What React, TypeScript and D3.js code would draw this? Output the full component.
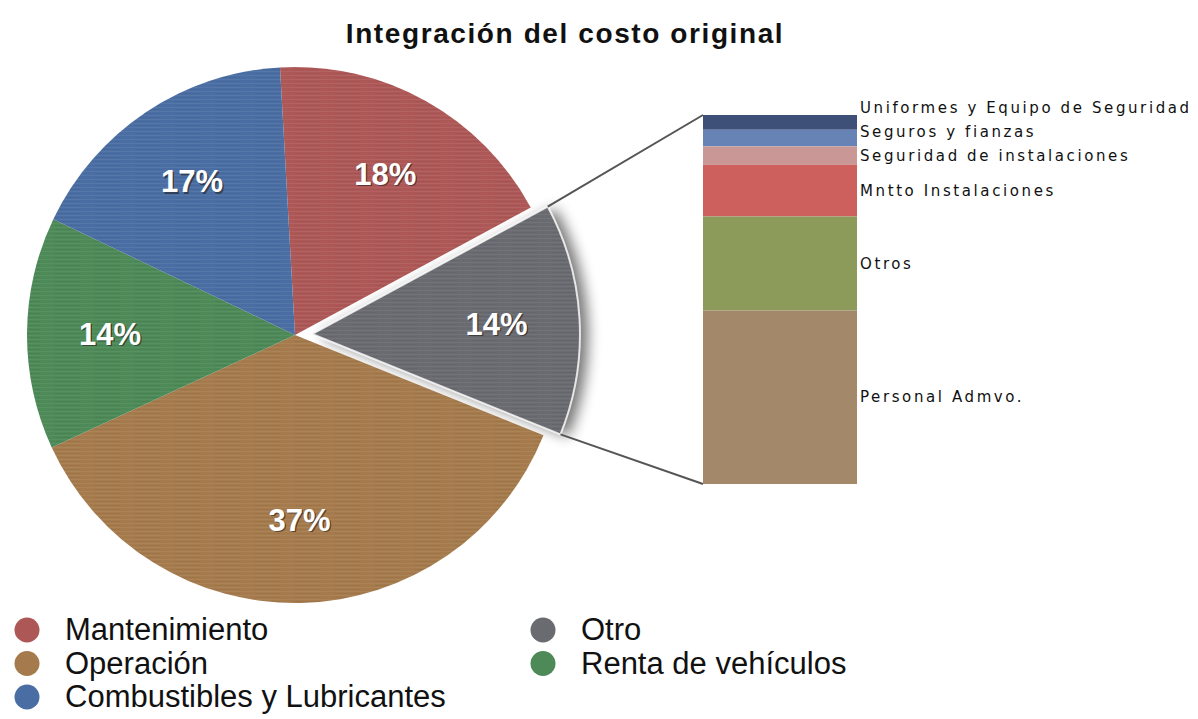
import React, { useEffect, useRef } from 'react';
import * as d3 from 'd3';

// pie categories (clockwise from the top; legend reads row by row)
const categories = ['Mantenimiento', 'Otro', 'Operación', 'Renta de vehículos', 'Combustibles y Lubricantes'];
const shares = [18, 14, 37, 14, 17];
const pieColors = ['#ad5857', '#6a6a71', '#a57b4d', '#4d8a58', '#4a6ea3'];

// breakdown of "Otro" (top to bottom)
const otherItems = ['Uniformes  y Equipo de Seguridad', 'Seguros y fianzas', 'Seguridad de instalaciones', 'Mntto Instalaciones', 'Otros', 'Personal Admvo.'];
const otherShares = [4, 4.5, 5, 14, 25.5, 47];
const otherColors = ['#3e5078', '#6783b6', '#c99896', '#cd5f5c', '#8c9a5a', '#a3886a'];

const title = 'Integración del costo original';

const W = 1198;
const H = 719;

const App = () => {
  const ref = useRef<SVGSVGElement>(null);

  useEffect(() => {
    const svg = d3.select(ref.current);
    svg.selectAll('*').remove();

    const cx = 295;
    const cy = 335;
    const R = 268;
    const explode = 17;
    const exploded = 1; // index of "Otro"

    const defs = svg.append('defs');
    const shadow = defs.append('filter').attr('id', 'shadow')
      .attr('x', '-30%').attr('y', '-30%').attr('width', '160%').attr('height', '160%');
    shadow.append('feGaussianBlur').attr('in', 'SourceAlpha').attr('stdDeviation', 7);
    shadow.append('feOffset').attr('dx', 8).attr('dy', 2).attr('result', 'b');
    shadow.append('feComponentTransfer').append('feFuncA').attr('type', 'linear').attr('slope', 0.55);
    const merge = shadow.append('feMerge');
    merge.append('feMergeNode');
    merge.append('feMergeNode').attr('in', 'SourceGraphic');

    // brushed texture
    const pat = defs.append('pattern').attr('id', 'brush')
      .attr('patternUnits', 'userSpaceOnUse').attr('width', 40).attr('height', 4);
    pat.append('rect').attr('width', 40).attr('height', 1).attr('fill', '#fff').attr('opacity', 0.06);
    pat.append('rect').attr('y', 2).attr('width', 25).attr('height', 1).attr('fill', '#000').attr('opacity', 0.05);

    // TITLE
    svg.append('text')
      .attr('x', 565).attr('y', 43)
      .attr('text-anchor', 'middle')
      .attr('font-family', 'Liberation Sans, Arial, sans-serif')
      .attr('font-weight', 'bold')
      .attr('font-size', 28)
      .attr('letter-spacing', 1.6)
      .attr('fill', '#111')
      .text(title);

    // PIE
    const pie = d3.pie<number>().sort(null).startAngle(-0.056).endAngle(2 * Math.PI - 0.056);
    const arcs = pie(shares);
    const arc = d3.arc<d3.PieArcDatum<number>>().innerRadius(0).outerRadius(R);

    const offset = (d: d3.PieArcDatum<number>, i: number) => {
      if (i !== exploded) return [0, 0];
      const a = (d.startAngle + d.endAngle) / 2;
      return [explode * Math.sin(a), -explode * Math.cos(a)];
    };

    const g = svg.append('g').attr('transform', `translate(${cx},${cy})`);

    const slices = g.selectAll('g.slice')
      .data(arcs)
      .enter()
      .append('g')
      .attr('class', 'slice')
      .attr('transform', (d, i) => `translate(${offset(d, i)})`);

    slices.append('path')
      .attr('d', arc)
      .attr('fill', (d, i) => pieColors[i])
      .attr('filter', (d, i) => (i === exploded ? 'url(#shadow)' : null));
    slices.append('path')
      .attr('d', arc)
      .attr('fill', 'url(#brush)');

    // white gap around the exploded slice
    const ex = arcs[exploded];
    const exOff = offset(ex, exploded);
    g.append('path')
      .attr('transform', `translate(${exOff})`)
      .attr('d', arc(ex))
      .attr('fill', 'none')
      .attr('stroke', '#fff')
      .attr('stroke-width', 2)
      .attr('stroke-opacity', 0.8);

    // percent labels
    const labelArc = d3.arc<d3.PieArcDatum<number>>().innerRadius(R * 0.69).outerRadius(R * 0.69);
    arcs.forEach((d, i) => {
      const [lx, ly] = labelArc.centroid(d);
      const [ox, oy] = offset(d, i);
      const txt = `${d.data}%`;
      const base = {
        'text-anchor': 'middle',
        'font-family': 'Liberation Sans, Arial, sans-serif',
        'font-weight': 'bold',
        'font-size': 31,
      };
      const sh = g.append('text')
        .attr('x', lx + ox + 1.5).attr('y', ly + oy + 12.5)
        .attr('fill', '#222').attr('opacity', 0.6).text(txt);
      const t = g.append('text')
        .attr('x', lx + ox).attr('y', ly + oy + 11)
        .attr('fill', '#fff').text(txt);
      Object.entries(base).forEach(([k, v]) => { sh.attr(k, v); t.attr(k, v); });
    });

    // STACKED BAR
    const barX = 703;
    const barW = 154;
    const barTop = 115;
    const barBottom = 484;

    const y = d3.scaleLinear()
      .domain([0, d3.sum(otherShares)])
      .range([barTop, barBottom]);

    const cum = d3.cumsum(otherShares);
    const segs = otherShares.map((v, i) => ({ y0: cum[i] - v, y1: cum[i], i }));

    // connector lines
    const p0 = [cx + exOff[0] + R * Math.sin(ex.startAngle), cy + exOff[1] - R * Math.cos(ex.startAngle)];
    const p1 = [cx + exOff[0] + R * Math.sin(ex.endAngle), cy + exOff[1] - R * Math.cos(ex.endAngle)];
    svg.append('line')
      .attr('x1', p0[0]).attr('y1', p0[1]).attr('x2', barX).attr('y2', barTop)
      .attr('stroke', '#555').attr('stroke-width', 2);
    svg.append('line')
      .attr('x1', p1[0]).attr('y1', p1[1]).attr('x2', barX).attr('y2', barBottom)
      .attr('stroke', '#555').attr('stroke-width', 2);

    svg.selectAll('rect.seg')
      .data(segs)
      .enter()
      .append('rect')
      .attr('class', 'seg')
      .attr('x', barX)
      .attr('width', barW)
      .attr('y', d => y(d.y0))
      .attr('height', d => y(d.y1) - y(d.y0))
      .attr('fill', d => otherColors[d.i]);

    // labels, pushed up so they don't overlap
    const centers = segs.map(d => (y(d.y0) + y(d.y1)) / 2);
    const labelY = centers.slice();
    for (let i = labelY.length - 2; i >= 0; i--) {
      labelY[i] = Math.min(labelY[i], labelY[i + 1] - 24);
    }
    svg.selectAll('text.blabel')
      .data(otherItems)
      .enter()
      .append('text')
      .attr('class', 'blabel')
      .attr('x', barX + barW + 3)
      .attr('y', (d, i) => labelY[i] + 5)
      .attr('font-family', 'DejaVu Sans, sans-serif')
      .attr('font-size', 15)
      .attr('letter-spacing', 2.6)
      .attr('fill', '#111')
      .text(d => d);

    // LEGEND
    const legend = svg.append('g');
    categories.forEach((c, i) => {
      const col = i % 2;
      const row = Math.floor(i / 2);
      const lx = col === 0 ? 27 : 543;
      const ly = 630 + row * 33.5;
      legend.append('circle')
        .attr('cx', lx).attr('cy', ly).attr('r', 12.5)
        .attr('fill', pieColors[i]);
      legend.append('text')
        .attr('x', lx + 38).attr('y', ly + 10)
        .attr('font-family', 'Liberation Sans, Arial, sans-serif')
        .attr('font-size', 31)
        .attr('fill', '#111')
        .text(c);
    });
  }, []);

  return (
    <svg
      ref={ref}
      width={W}
      height={H}
      style={{ position: 'absolute', left: 0, top: 0, background: '#fff' }}
    />
  );
};

export default App;
